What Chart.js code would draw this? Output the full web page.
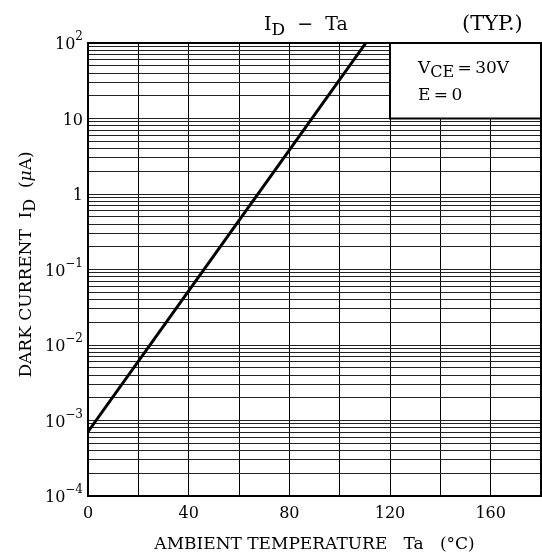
<!DOCTYPE html>
<html>
<head>
<meta charset="utf-8">
<script src="https://cdn.jsdelivr.net/npm/chart.js@4/dist/chart.umd.min.js"></script>
<style>
    html, body { margin: 0; padding: 0; background: #fff; }
    #wrap { width: 542px; height: 558px; }
</style>
</head>
<body>
<div id="wrap"><canvas id="chart" width="542" height="558"></canvas></div>
<script>
// Dark current vs ambient temperature (typ.)
var temperature = [0, 40, 80, 110.4];
var darkCurrent = [7.1e-4, 0.052, 3.8, 100];

// Axis ticks
var xTickValues = [0, 20, 40, 60, 80, 100, 120, 140, 160, 180];
var xTickLabels = ['0', '', '40', '', '80', '', '120', '', '160', ''];
var yDecades = [-4, -3, -2, -1, 0, 1, 2];
var yDecadeBase = ['10', '10', '10', '10', '1', '10', '10'];
var yDecadeExp = ['\u22124', '\u22123', '\u22122', '\u22121', '', '', '2'];

var SERIF = '"DejaVu Serif", "Liberation Serif", serif';

var font = function (size, style) {
    return (style || '') + ' ' + size + 'px ' + SERIF;
};

/**
 * Draws a row of text runs (normal / sub / sup) starting at x, on baseline y.
 */
var drawRuns = function (ctx, x, y, runs) {
    runs.forEach(function (run) {
        ctx.font = font(run.size, run.style);
        ctx.fillText(run.text, x, y + (run.dy || 0));
        x += ctx.measureText(run.text).width;
    });
    return x;
};

var runsWidth = function (ctx, runs) {
    var w = 0;
    runs.forEach(function (run) {
        ctx.font = font(run.size, run.style);
        w += ctx.measureText(run.text).width;
    });
    return w;
};

var decorations = {
    id: 'decorations',

    // condition box sits on top of the grid, under the curve
    beforeDatasetsDraw: function (chart) {
        var ctx = chart.ctx;
        var xs = chart.scales.x;
        var ys = chart.scales.y;
        var l = xs.getPixelForValue(120);
        var r = xs.getPixelForValue(180);
        var t = ys.getPixelForValue(100);
        var b = ys.getPixelForValue(10);

        ctx.save();
        ctx.fillStyle = '#fff';
        ctx.fillRect(l, t, r - l, b - t);
        ctx.strokeStyle = '#000';
        ctx.lineWidth = 2;
        ctx.strokeRect(l, t, r - l, b - t);

        ctx.fillStyle = '#000';
        ctx.textBaseline = 'alphabetic';
        ctx.textAlign = 'left';
        drawRuns(ctx, l + 28, t + 30, [
            {text: 'V', size: 17},
            {text: 'CE', size: 16, dy: 4},
            {text: '\u2009=\u200930V', size: 17}
        ]);
        drawRuns(ctx, l + 28, t + 57, [
            {text: 'E\u2009=\u20090', size: 17}
        ]);
        ctx.restore();
    },

    afterDraw: function (chart) {
        var ctx = chart.ctx;
        var area = chart.chartArea;
        var ys = chart.scales.y;

        ctx.save();

        // plot frame
        ctx.strokeStyle = '#000';
        ctx.lineWidth = 2;
        ctx.strokeRect(area.left, area.top, area.right - area.left, area.bottom - area.top);

        ctx.fillStyle = '#000';
        ctx.textBaseline = 'alphabetic';
        ctx.textAlign = 'left';

        // y tick labels with superscript exponents
        yDecades.forEach(function (d, i) {
            var py = ys.getPixelForValue(Math.pow(10, d));
            var runs = [{text: yDecadeBase[i], size: 16}];
            if (yDecadeExp[i]) {
                runs.push({text: yDecadeExp[i], size: 12, dy: -9});
            }
            var w = runsWidth(ctx, runs);
            drawRuns(ctx, area.left - 5 - w, py + 6, runs);
        });

        // y axis title, rotated
        var yTitle = [
            {text: 'DARK CURRENT  I', size: 17},
            {text: 'D', size: 16, dy: 4},
            {text: '  (', size: 17},
            {text: '\u03bc', size: 17, style: 'italic'},
            {text: 'A)', size: 17}
        ];
        ctx.save();
        ctx.translate(25, (area.top + area.bottom) / 2 - 5);
        ctx.rotate(-Math.PI / 2);
        drawRuns(ctx, -runsWidth(ctx, yTitle) / 2, 6, yTitle);
        ctx.restore();

        // chart title
        drawRuns(ctx, 264, 30, [
            {text: 'I', size: 19},
            {text: 'D', size: 17, dy: 5},
            {text: '  \u2212  Ta', size: 19}
        ]);
        drawRuns(ctx, 462, 30, [
            {text: '(TYP.)', size: 21}
        ]);

        ctx.restore();
    }
};

var ctx = document.getElementById('chart').getContext('2d');

new Chart(ctx, {
    type: 'line',
    data: {
        datasets: [
            {
                data: temperature.map(function (t, i) {
                    return {x: t, y: darkCurrent[i]};
                }),
                borderColor: '#000',
                borderWidth: 3,
                pointRadius: 0,
                tension: 0,
                fill: false
            }
        ]
    },
    options: {
        responsive: false,
        animation: false,
        events: [],
        layout: {
            padding: {top: 43, right: 1, bottom: 0, left: 0}
        },
        plugins: {
            legend: {display: false},
            title: {display: false},
            tooltip: {enabled: false}
        },
        scales: {
            x: {
                type: 'linear',
                min: 0,
                max: 180,
                afterBuildTicks: function (axis) {
                    axis.ticks = xTickValues.map(function (v) {
                        return {value: v};
                    });
                },
                afterFit: function (axis) {
                    axis.height = 62;
                    axis.paddingLeft = 0;
                    axis.paddingRight = 0;
                },
                ticks: {
                    autoSkip: false,
                    maxRotation: 0,
                    padding: 8,
                    color: '#000',
                    font: {family: SERIF, size: 16},
                    callback: function (value) {
                        var i = xTickValues.indexOf(value);
                        return i >= 0 ? xTickLabels[i] : '';
                    }
                },
                grid: {
                    color: '#000',
                    lineWidth: 1,
                    drawTicks: false
                },
                border: {color: '#000', width: 2},
                title: {
                    display: true,
                    text: 'AMBIENT TEMPERATURE   Ta   (\u00b0C)',
                    color: '#000',
                    font: {family: SERIF, size: 17},
                    padding: {top: 0, bottom: 3}
                }
            },
            y: {
                type: 'logarithmic',
                min: 1e-4,
                max: 100,
                afterBuildTicks: function (axis) {
                    var ticks = [];
                    for (var d = -4; d < 2; d++) {
                        for (var k = 1; k < 10; k++) {
                            ticks.push({value: k * Math.pow(10, d)});
                        }
                    }
                    ticks.push({value: 100});
                    axis.ticks = ticks;
                },
                afterFit: function (axis) {
                    axis.width = 88;
                },
                ticks: {display: false},
                grid: {
                    color: '#222',
                    lineWidth: 1,
                    drawTicks: false
                },
                border: {color: '#000', width: 2}
            }
        }
    },
    plugins: [decorations]
});
</script>
</body>
</html>
